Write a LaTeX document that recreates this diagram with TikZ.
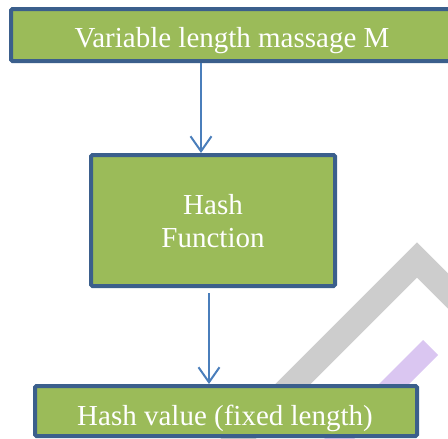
\documentclass[tikz,border=0pt]{standalone}
\usepackage{fontspec}
\setmainfont{Liberation Serif}
\usetikzlibrary{arrows.meta}

\definecolor{boxfill}{HTML}{9BBB59}
\definecolor{boxline}{HTML}{3B5F8C}
\definecolor{arrowblue}{HTML}{4A7EBB}
\definecolor{markgray}{HTML}{CDCDCD}
\definecolor{marklilac}{HTML}{DAC6F1}

\tikzset{
  stagebox/.style={draw=boxline, fill=boxfill, line width=4pt, rounded corners=1.5pt,
                   inner sep=0pt, anchor=center},
  stagetext/.style={text=white, font=\fontsize{29}{33}\selectfont, anchor=base, inner sep=0pt},
  flow/.style={draw=arrowblue, line width=2pt,
               -{Straight Barb[length=15pt,width=21pt,line width=2pt]}},
}

\begin{document}
\begin{tikzpicture}[x=1pt,y=-1pt]
  \useasboundingbox (0,0) rectangle (448,439);
  \clip (0,0) rectangle (448,439);

  % faint background strokes
  \draw[markgray, line width=25pt, line cap=butt, line join=miter] (160,517) -- (417,260) -- (480,323);
  \fill[marklilac] (423,340) -- (438,355) -- (338,455) -- (323,440) -- cycle;

  % process stages
  \node[stagebox, minimum width=442pt, minimum height=52pt] (msg) at (232,35) {};
  \node[stagebox, minimum width=244pt, minimum height=131pt] (hash) at (213,220.5) {};
  \node[stagebox, minimum width=382pt, minimum height=50pt] (out) at (226,411) {};

  \node[stagetext] (msgtxt) at (232,48) {Variable length massage M};
  \node[stagetext] (hashtxt1) at (213,214) {Hash};
  \node[stagetext] (hashtxt2) at (213,247) {Function};
  \node[stagetext] (outtxt) at (225,425) {Hash value (fixed length)};

  % connectors
  \draw[flow] ([xshift=-12pt]hash.north |- msg.south) -- ([xshift=-12pt]hash.north);
  \draw[flow] ([xshift=-4pt,yshift=-5pt]hash.south) -- ([xshift=-4pt]hash.south |- out.north);
\end{tikzpicture}
\end{document}
